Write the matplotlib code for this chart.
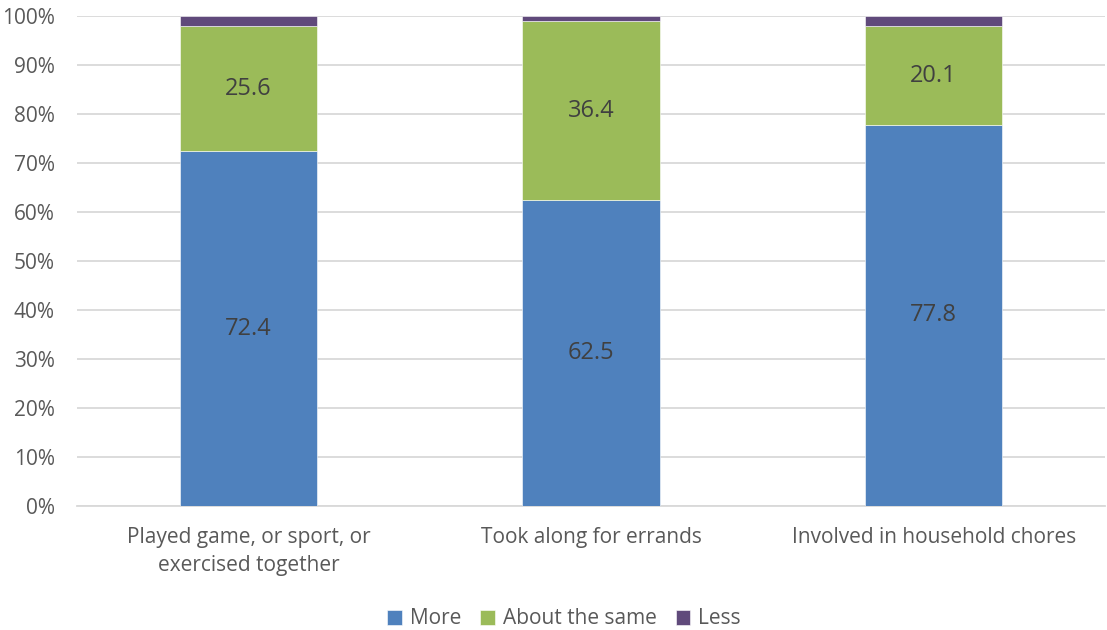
import matplotlib
matplotlib.use("Agg")
import matplotlib.pyplot as plt
import numpy as np

categories = ["Played game, or sport, or\nexercised together",
              "Took along for errands",
              "Involved in household chores"]
more = [72.4, 62.5, 77.8]
same = [25.6, 36.4, 20.1]
less = [2.0, 1.1, 2.1]
series_names = ["More", "About the same", "Less"]
colors = ["#4F81BD", "#9BBB59", "#604A7B"]
y_ticks = [0, 10, 20, 30, 40, 50, 60, 70, 80, 90, 100]

plt.rcParams['font.family'] = ['Open Sans', 'DejaVu Sans']

fig = plt.figure(figsize=(11.07, 6.3), dpi=100)
ax = fig.add_axes([77/1107, 124/630, 1028/1107, 490/630])

x = np.arange(len(categories))
width = 0.4
bottom = np.zeros(len(categories))
bars = []
for vals, name, col in zip([more, same, less], series_names, colors):
    b = ax.bar(x, vals, width, bottom=bottom, color=col, label=name,
               edgecolor="white", linewidth=0.4, zorder=3)
    bars.append(b)
    bottom = bottom + np.array(vals)

# value labels for the two main segments
for vals, b in zip([more, same], bars[:2]):
    for rect, v in zip(b, vals):
        cy = rect.get_y() + rect.get_height() / 2
        ax.text(rect.get_x() + rect.get_width() / 2, cy, f"{v:.1f}",
                ha="center", va="center", fontsize=17, color="#404040", zorder=4)

ax.set_xlim(-0.5, 2.5)
ax.set_ylim(0, 100)
ax.set_yticks(y_ticks)
ax.set_yticklabels([f"{t}%" for t in y_ticks])
ax.set_xticks(x)
ax.set_xticklabels(categories, linespacing=1.45)
ax.tick_params(axis="both", length=0, labelsize=15, colors="#595959")
ax.tick_params(axis="x", pad=15)
ax.tick_params(axis="y", pad=16)
ax.grid(axis="y", color="#D9D9D9", linewidth=1.3, zorder=0)
for s in ["top", "right", "left"]:
    ax.spines[s].set_visible(False)
ax.spines["bottom"].set_color("#D9D9D9")
ax.spines["bottom"].set_linewidth(1.3)

leg = fig.legend(handles=bars, labels=series_names, loc="center",
                 bbox_to_anchor=(564/1107, 1 - 619/630), ncol=3, frameon=False,
                 fontsize=15, handlelength=0.7, handleheight=0.7,
                 handletextpad=0.4, columnspacing=0.9, borderpad=0.0)
for t in leg.get_texts():
    t.set_color("#595959")

fig.savefig("out.png", dpi=100)
